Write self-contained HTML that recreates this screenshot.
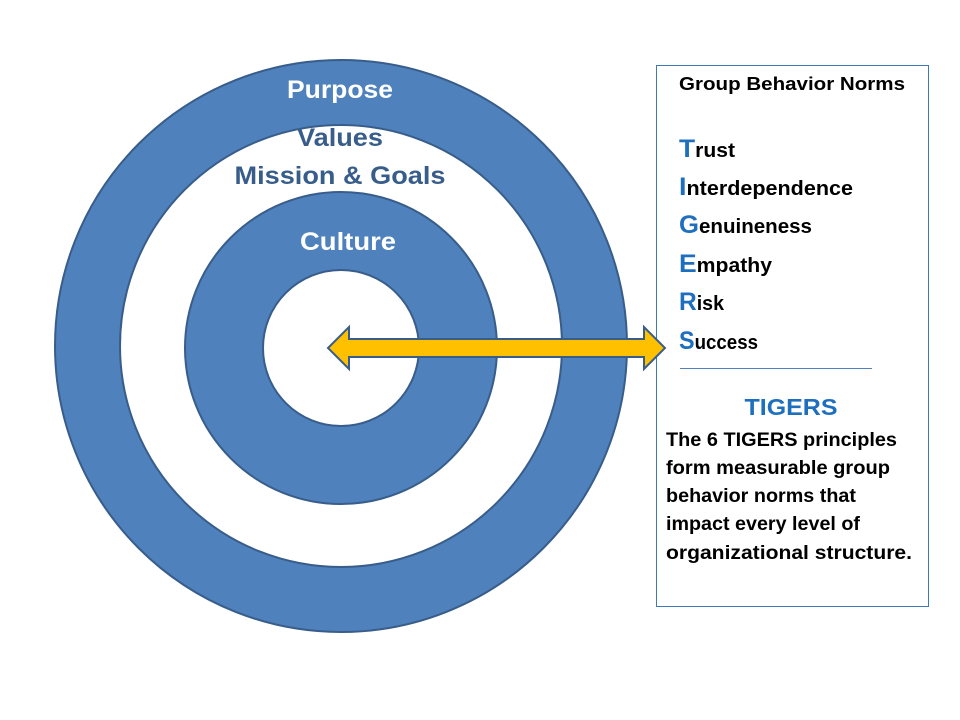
<!DOCTYPE html>
<html><head><meta charset="utf-8"><style>
html,body{margin:0;padding:0;background:#fff;}
svg{display:block;}
text{font-family:"Liberation Sans",sans-serif;font-weight:bold;}
</style></head><body>
<svg width="960" height="720" viewBox="0 0 960 720" xmlns="http://www.w3.org/2000/svg">
<circle cx="341" cy="346" r="286" fill="#4f81bd" stroke="#385d8a" stroke-width="2"/>
<circle cx="341" cy="346" r="221" fill="#fff" stroke="#385d8a" stroke-width="2"/>
<circle cx="341" cy="348" r="156" fill="#4f81bd" stroke="#385d8a" stroke-width="2"/>
<circle cx="341" cy="348" r="78" fill="#fff" stroke="#385d8a" stroke-width="2"/>
<text x="340" y="98" font-size="25" fill="#fff" text-anchor="middle" textLength="106" lengthAdjust="spacingAndGlyphs">Purpose</text>
<text x="340" y="146" font-size="25" fill="#385d8a" text-anchor="middle" textLength="86" lengthAdjust="spacingAndGlyphs">Values</text>
<text x="340" y="184" font-size="25" fill="#385d8a" text-anchor="middle" textLength="211" lengthAdjust="spacingAndGlyphs">Mission &amp; Goals</text>
<text x="348" y="250" font-size="25" fill="#fff" text-anchor="middle" textLength="96" lengthAdjust="spacingAndGlyphs">Culture</text>
<rect x="656.5" y="65.5" width="272" height="541" fill="#fff" stroke="#3d7ab8" stroke-width="1"/>
<polygon points="328,348 349,327 349,339 644,339 644,327 665,348 644,369 644,357 349,357 349,369" fill="#ffc000" stroke="#385d8a" stroke-width="2"/>
<text x="679" y="90" font-size="18" fill="#000" textLength="226" lengthAdjust="spacingAndGlyphs">Group Behavior Norms</text>
<g font-size="20" fill="#000">
<text x="679" y="157" textLength="56" lengthAdjust="spacingAndGlyphs"><tspan fill="#1f6fbf" font-size="25">T</tspan>rust</text>
<text x="679" y="195" textLength="174" lengthAdjust="spacingAndGlyphs"><tspan fill="#1f6fbf" font-size="25">I</tspan>nterdependence</text>
<text x="679" y="233" textLength="133" lengthAdjust="spacingAndGlyphs"><tspan fill="#1f6fbf" font-size="25">G</tspan>enuineness</text>
<text x="679" y="272" textLength="93" lengthAdjust="spacingAndGlyphs"><tspan fill="#1f6fbf" font-size="25">E</tspan>mpathy</text>
<text x="679" y="310" textLength="45" lengthAdjust="spacingAndGlyphs"><tspan fill="#1f6fbf" font-size="25">R</tspan>isk</text>
<text x="679" y="349" textLength="79" lengthAdjust="spacingAndGlyphs"><tspan fill="#1f6fbf" font-size="25">S</tspan>uccess</text>
</g>
<line x1="680" y1="368.5" x2="872" y2="368.5" stroke="#4f81bd" stroke-width="1"/>
<text x="791" y="415" font-size="23" fill="#1f6fbf" text-anchor="middle" textLength="93" lengthAdjust="spacingAndGlyphs">TIGERS</text>
<g font-size="19" fill="#000">
<text x="666" y="446" textLength="231" lengthAdjust="spacingAndGlyphs">The 6 TIGERS principles</text>
<text x="666" y="474" textLength="224" lengthAdjust="spacingAndGlyphs">form measurable group</text>
<text x="666" y="502" textLength="190" lengthAdjust="spacingAndGlyphs">behavior norms that</text>
<text x="666" y="530" textLength="194" lengthAdjust="spacingAndGlyphs">impact every level of</text>
<text x="666" y="559" textLength="246" lengthAdjust="spacingAndGlyphs">organizational structure.</text>
</g>
</svg>
</body></html>
